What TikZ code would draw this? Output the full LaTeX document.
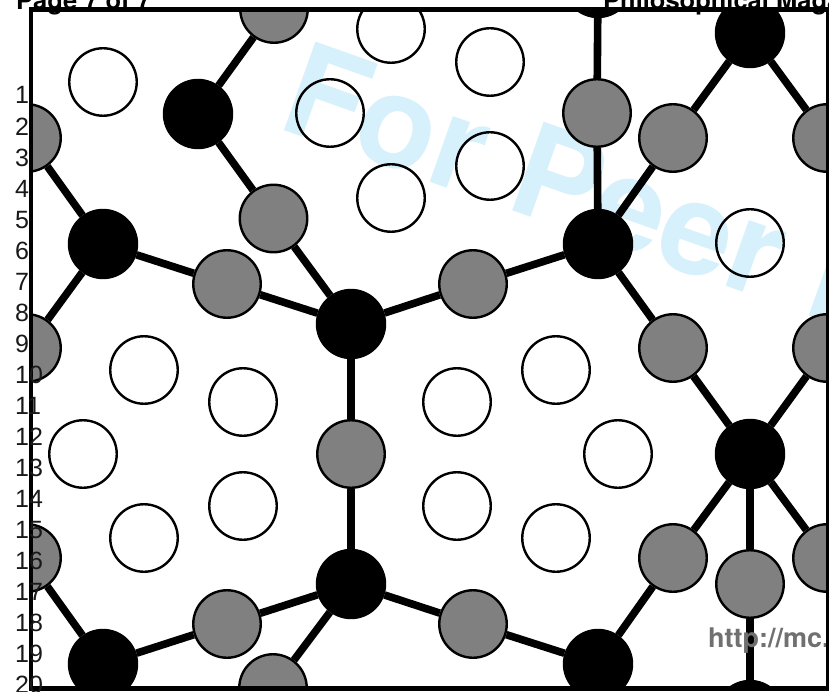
\documentclass[tikz,border=0pt]{standalone}
\usepackage{fontspec}
\setmainfont{Liberation Sans}
\newfontfamily\heros{TeX Gyre Heros}
\definecolor{wm}{HTML}{D6F0FC}
\definecolor{urlgray}{HTML}{707070}
\definecolor{atomgray}{HTML}{808080}
\tikzset{
  blackatom/.style={circle,draw=black,fill=black,line width=1pt,minimum size=69.4pt,inner sep=0pt},
  grayatom/.style={circle,draw=black,fill=atomgray,line width=2.4pt,minimum size=67.5pt,inner sep=0pt},
  whiteatom/.style={circle,draw=black,line width=2.4pt,minimum size=67.5pt,inner sep=0pt},
  bond/.style={draw=black,line width=7.6pt},
  linenum/.style={anchor=base west,inner sep=0pt,font=\fontsize{25}{25}\selectfont,text=black!90},
  headtext/.style={anchor=base west,inner sep=0pt,font=\heros\fontsize{25.5}{25.5}\selectfont\bfseries}
}
\begin{document}
\begin{tikzpicture}[x=1pt,y=-1pt]
\useasboundingbox (0,0) rectangle (829,692);
\fill[white] (0,0) rectangle (829,692);
\node[headtext] (page) at (16,9.5) {Page 7 of 7};
\node[headtext] (journal) at (603,9.5) {Philosophical Magazine};
\begin{scope}
\clip (31,9.5) rectangle (829,688.5);
\node[anchor=base west,inner sep=0pt,text=wm,rotate=-19.5,font=\heros\fontsize{129}{129}\selectfont\bfseries] (mark) at (275,127) {For Peer Review};
\foreach \n/\x/\y in {w1/103/82,w2/391/29,w3/490/62,w4/330/113,w5/490/166,w6/391/198,w7/750/243,w8/144/370,w9/243/402,w10/83/454,w11/144/538,w12/243/506,w13/457/402,w14/556/370,w15/618/454,w16/457/506,w17/556/538}
  \node[whiteatom] (\n) at (\x,\y) {};
\foreach \n/\x/\y in {k1/198/114,k2/103/244,k3/598/244,k4/351/324,k5/750/33,k6/750/454,k7/351/584,k8/103/664,k9/598/664,k10/750/715,k11/598/-17}
  \node[blackatom] (\n) at (\x,\y) {};
\foreach \n/\x/\y in {g1/274/9,g2/27/138,g3/273.5/218.5,g4/227/284,g5/473/284,g6/597/113,g7/673/138,g8/827/138,g9/27/348,g10/673/348,g11/827/348,g12/351/454,g13/27/558,g14/673/558,g15/827/558,g16/750/584,g17/227/624,g18/473/624,g19/273/688}
  \node[grayatom] (\n) at (\x,\y) {};
\foreach \a/\b in {k1/g1,k1/g3,g3/k4,g2/k2,k2/g9,k2/g4,g4/k4,k4/g5,g5/k3,k11/g6,g6/k3,k3/g7,g7/k5,k5/g8,k3/g10,g10/k6,k6/g11,k4/g12,g12/k7,g13/k8,k8/g17,g17/k7,k7/g18,g18/k9,k7/g19,k9/g14,g14/k6,k6/g15,k6/g16,g16/k10}
  \draw[bond] (\a) -- (\b);
\node[anchor=base west,inner sep=0pt,text=urlgray,font=\heros\fontsize{27}{27}\selectfont\bfseries] (url) at (708,647) {http://mc.manuscriptcentral.com};
\end{scope}
\draw[black,line width=4.2pt] (31,9.5) rectangle (828.5,688.5);
\foreach \i in {1,...,20}
  \node[linenum] (n\i) at (15,{104+(\i-1)*31.05}) {\i};
\end{tikzpicture}
\end{document}
